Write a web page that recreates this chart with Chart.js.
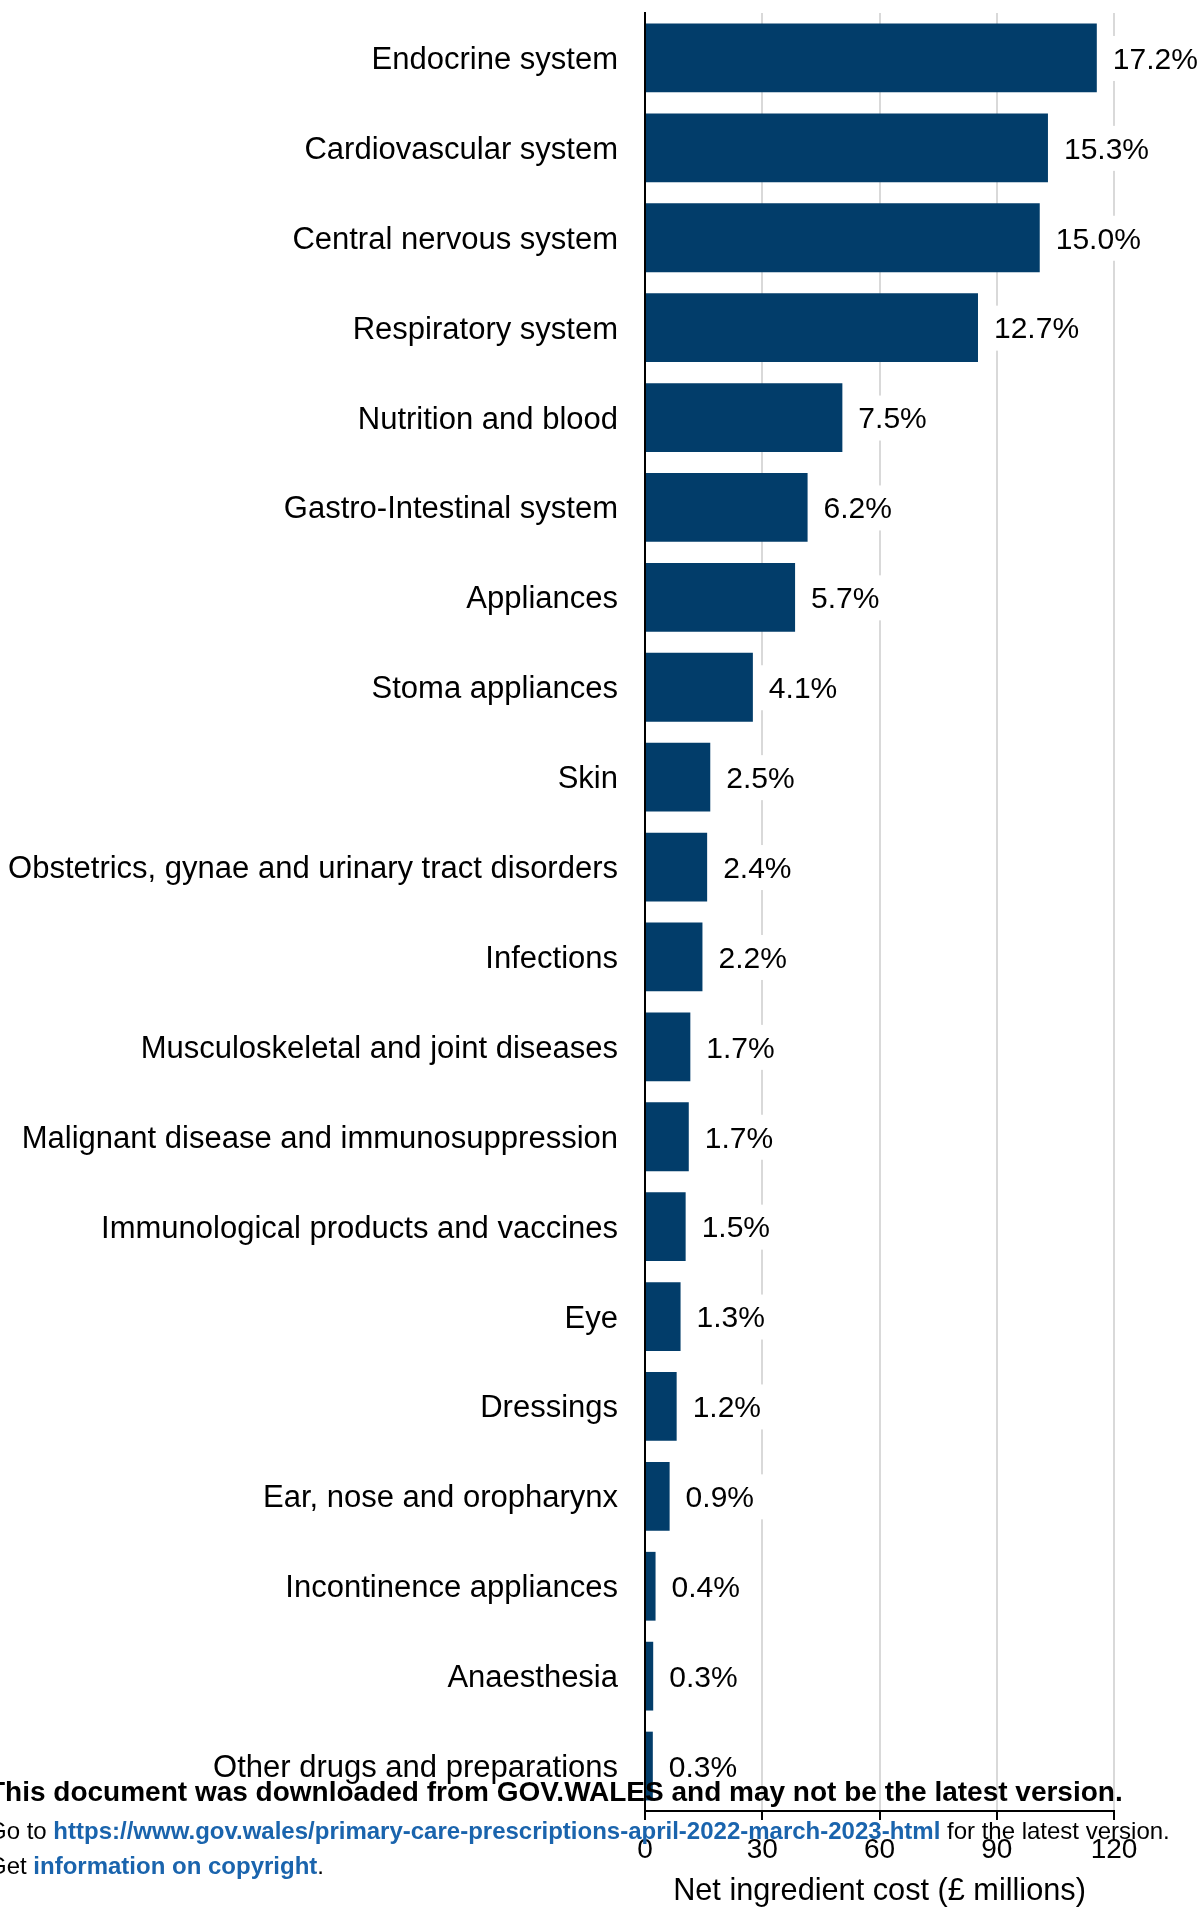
<!DOCTYPE html>
<html lang="en">
<head>
<meta charset="utf-8">
<title>Net ingredient cost by BNF chapter</title>
<script src="https://cdn.jsdelivr.net/npm/chart.js@4.4.1/dist/chart.umd.min.js"></script>
<style>
  html, body { margin: 0; padding: 0; background: #ffffff; }
  #wrap { position: relative; width: 1202px; height: 1908px; overflow: hidden; }
  canvas { display: block; }
</style>
</head>
<body>
<div id="wrap"><canvas id="chart" width="1202" height="1908"></canvas></div>
<script>
// BNF chapters, ordered by net ingredient cost
const categories = [
  'Endocrine system',
  'Cardiovascular system',
  'Central nervous system',
  'Respiratory system',
  'Nutrition and blood',
  'Gastro-Intestinal system',
  'Appliances',
  'Stoma appliances',
  'Skin',
  'Obstetrics, gynae and urinary tract disorders',
  'Infections',
  'Musculoskeletal and joint diseases',
  'Malignant disease and immunosuppression',
  'Immunological products and vaccines',
  'Eye',
  'Dressings',
  'Ear, nose and oropharynx',
  'Incontinence appliances',
  'Anaesthesia',
  'Other drugs and preparations'
];

// Net ingredient cost, £ millions
const costMillions = [115.6, 103.1, 101.0, 85.2, 50.5, 41.6, 38.4, 27.6, 16.7, 15.9,
                      14.7, 11.6, 11.2, 10.4, 9.1, 8.1, 6.3, 2.7, 2.1, 2.0];

// Share of the total cost, per cent
const sharePct = [17.2, 15.3, 15.0, 12.7, 7.5, 6.2, 5.7, 4.1, 2.5, 2.4,
                  2.2, 1.7, 1.7, 1.5, 1.3, 1.2, 0.9, 0.4, 0.3, 0.3];

// x axis ticks
const xTicks = [0, 30, 60, 90, 120];

const FONT = '"Liberation Sans", Arial, Helvetica, sans-serif';
const BAR_COLOUR = '#023d6a';
const LINK_COLOUR = '#1a64ad';

// Percentage labels on a white box just past the end of each bar
const shareLabels = {
  id: 'shareLabels',
  afterDatasetsDraw(chart) {
    const ctx = chart.ctx;
    const meta = chart.getDatasetMeta(0);
    ctx.save();
    ctx.font = '30px ' + FONT;
    ctx.textBaseline = 'middle';
    ctx.textAlign = 'left';
    meta.data.forEach((bar, i) => {
      const text = sharePct[i].toFixed(1) + '%';
      const tx = bar.x + 16;
      const w = ctx.measureText(text).width;
      ctx.fillStyle = '#ffffff';
      ctx.fillRect(tx - 8, bar.y - 22, w + 18, 45);
      ctx.fillStyle = '#000000';
      ctx.fillText(text, tx, bar.y + 2.5);
    });
    ctx.restore();
  }
};

// Source notice printed across the foot of the page
const footerNotice = {
  id: 'footerNotice',
  afterDraw(chart) {
    const ctx = chart.ctx;
    ctx.save();
    ctx.textBaseline = 'alphabetic';
    ctx.textAlign = 'left';
    const run = (parts, x, y) => {
      parts.forEach(([text, font, colour]) => {
        ctx.font = font;
        ctx.fillStyle = colour;
        ctx.fillText(text, x, y);
        x += ctx.measureText(text).width;
      });
    };
    const bold28 = 'bold 28px ' + FONT;
    const reg24 = '24px ' + FONT;
    const bold24 = 'bold 24px ' + FONT;
    run([['This document was downloaded from GOV.WALES and may not be the latest version.', bold28, '#000']], -12, 1800.5);
    run([
      ['Go to ', reg24, '#000'],
      ['https://www.gov.wales/primary-care-prescriptions-april-2022-march-2023-html', bold24, LINK_COLOUR],
      [' for the latest version.', reg24, '#000']
    ], -12, 1838.5);
    run([
      ['Get ', reg24, '#000'],
      ['information on copyright', bold24, LINK_COLOUR],
      ['.', reg24, '#000']
    ], -12, 1873.5);
    ctx.restore();
  }
};

new Chart(document.getElementById('chart'), {
  type: 'bar',
  data: {
    labels: categories,
    datasets: [{
      data: costMillions,
      backgroundColor: BAR_COLOUR,
      borderWidth: 0,
      barPercentage: 0.765,
      categoryPercentage: 1.0
    }]
  },
  options: {
    indexAxis: 'y',
    responsive: false,
    animation: false,
    devicePixelRatio: 1,
    layout: { padding: { top: 13, right: 88, left: 0, bottom: 0 } },
    plugins: {
      legend: { display: false },
      tooltip: { enabled: false },
      title: { display: false }
    },
    scales: {
      y: {
        type: 'category',
        position: 'left',
        afterFit(scale) {
          scale.width = 645;
          // bars sit inside their bands, so no extra room is needed above/below
          scale.paddingTop = 0;
          scale.paddingBottom = 0;
        },
        grid: { display: false, drawTicks: false },
        border: { display: true, color: '#000000', width: 2 },
        ticks: {
          color: '#000000',
          padding: 27,
          labelOffset: 2.5,
          autoSkip: false,
          font: { family: FONT, size: 31 }
        }
      },
      x: {
        type: 'linear',
        position: 'bottom',
        min: xTicks[0],
        max: xTicks[xTicks.length - 1],
        afterFit(scale) { scale.height = 97; },
        afterBuildTicks(scale) { scale.ticks = xTicks.map(v => ({ value: v })); },
        grid: {
          color: '#d9d9d9',
          lineWidth: 2,
          drawTicks: true,
          tickLength: 9,
          tickColor: '#000000',
          tickWidth: 2
        },
        border: { display: true, color: '#000000', width: 2 },
        ticks: {
          color: '#000000',
          padding: 13,
          maxRotation: 0,
          font: { family: FONT, size: 28 }
        },
        title: {
          display: true,
          text: 'Net ingredient cost (£ millions)',
          color: '#000000',
          padding: { top: 0, bottom: 0 },
          font: { family: FONT, size: 30.7, lineHeight: 1.1 }
        }
      }
    }
  },
  plugins: [shareLabels, footerNotice]
});
</script>
</body>
</html>
